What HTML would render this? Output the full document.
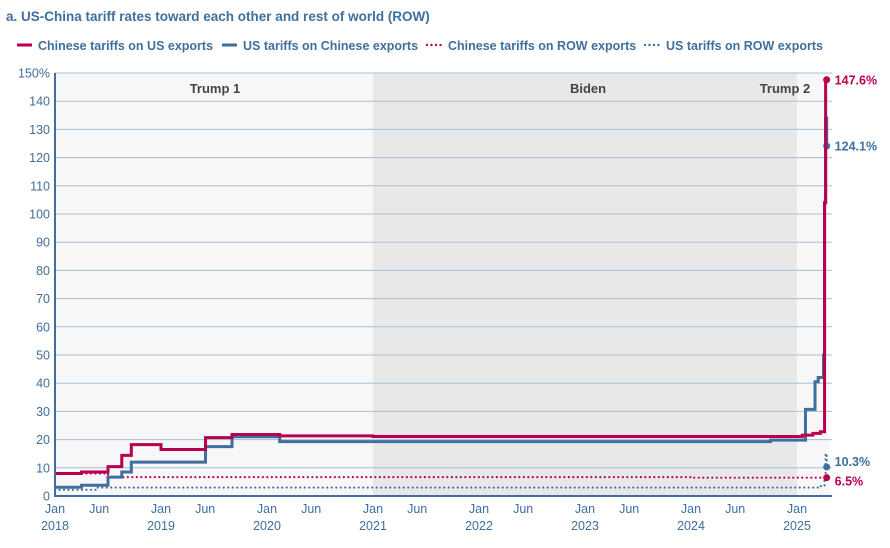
<!DOCTYPE html>
<html><head><meta charset="utf-8"><style>
body{margin:0;background:#fff;font-family:"Liberation Sans",sans-serif;}
svg text{font-family:"Liberation Sans",sans-serif;}
</style></head><body>
<svg width="890" height="543" viewBox="0 0 890 543">
<text x="6" y="21" font-size="13.5" font-weight="bold" fill="#3f6f9e">a. US-China tariff rates toward each other and rest of world (ROW)</text>
<g id="legend"></g>
<g id="bg"></g><g id="grid"></g><g id="series"></g><g id="axes"></g>
</svg>
<script>
const yTicks=[0,10,20,30,40,50,60,70,80,90,100,110,120,130,140,150];
const xTickDates=[2018,2018.417,2019,2019.417,2020,2020.417,2021,2021.417,2022,2022.417,2023,2023.417,2024,2024.417,2025];
const xTickLabels=[["Jan","2018"],["Jun",""],["Jan","2019"],["Jun",""],["Jan","2020"],["Jun",""],["Jan","2021"],["Jun",""],["Jan","2022"],["Jun",""],["Jan","2023"],["Jun",""],["Jan","2024"],["Jun",""],["Jan","2025"]];
const eraNames=["Trump 1","Biden","Trump 2"];
const eraStart=[2018,2021.0,2025.0];
const eraEnd=[2021.0,2025.0,2025.3];
const cnUsT=[2018,2018.25,2018.5,2018.63,2018.72,2019,2019.42,2019.67,2020.12,2021,2024.9,2025.05,2025.15,2025.22,2025.26,2025.27,2025.28];
const cnUsV=[8,8.5,10.4,14.4,18.2,16.5,20.7,21.8,21.3,21.1,21.1,21.6,22.2,22.8,104,147.6,147.6];
const usCnT=[2018,2018.25,2018.5,2018.63,2018.72,2019.42,2019.67,2020.12,2024.75,2025.08,2025.17,2025.2,2025.25,2025.26,2025.27,2025.28];
const usCnV=[3.1,3.8,6.7,8.5,12,17.5,21,19.3,19.8,30.7,40.5,42,50,104,134,124.1];
const cnRowT=[2018,2018.5,2024,2025.2,2025.28];
const cnRowV=[8,6.7,6.5,6.5,6.5];
const usRowT=[2018,2018.4,2025.1,2025.22,2025.26,2025.27,2025.28];
const usRowV=[2.2,3,3,3.5,5.5,15,10.3];
const RED="#b8004f",BLUE="#3f6f9e";
const X=t=>55+(t-2018)*106;
const Y=v=>496-v*2.82;
const NS="http://www.w3.org/2000/svg";
function mk(tag,attrs,parent){const e=document.createElementNS(NS,tag);for(const k in attrs)e.setAttribute(k,attrs[k]);parent.appendChild(e);return e;}
const bg=document.getElementById('bg'),grid=document.getElementById('grid'),ser=document.getElementById('series'),axes=document.getElementById('axes'),leg=document.getElementById('legend');
const fills=["#f7f7f7","#e8e8e8","#f7f7f7"];
eraNames.forEach((n,i)=>{
 const r=mk('rect',{x:X(eraStart[i]),y:Y(150),width:X(eraEnd[i])-X(eraStart[i]),height:Y(0)-Y(150),fill:fills[i]},bg);
 
 
 const cx=i==0?215:(i==1?588:785);
 const t=mk('text',{x:cx,y:93,'font-size':13,'font-weight':'bold',fill:'#444','text-anchor':'middle'},bg);t.textContent=n;
 
 
});
yTicks.forEach(v=>{
 if(v>0){const l=mk('line',{x1:55,x2:832,y1:Y(v),y2:Y(v),stroke:'#a9bfd6','stroke-width':1},grid);
 
 }
 const t=mk('text',{x:50,y:Y(v)+4.5,'font-size':12.5,fill:BLUE,'text-anchor':'end'},axes);t.textContent=v==150?'150%':v;
 
 
});
mk('line',{x1:55,x2:55,y1:Y(150),y2:Y(0)+1,stroke:BLUE,'stroke-width':2},axes);
const xa=mk('line',{x1:54,x2:832,y1:Y(0),y2:Y(0),stroke:BLUE,'stroke-width':2},axes);


xTickDates.forEach((d,i)=>{
 const t=mk('text',{x:X(d),y:513,'font-size':12.5,fill:BLUE,'text-anchor':'middle'},axes);t.textContent=xTickLabels[i][0];
 
 
 if(xTickLabels[i][1]){const t2=mk('text',{x:X(d),y:530,'font-size':12.5,fill:BLUE,'text-anchor':'middle'},axes);t2.textContent=xTickLabels[i][1];
 
 }
});
function step(T,V){let d=`M${X(T[0])},${Y(V[0])}`;for(let i=1;i<T.length;i++){d+=`H${X(T[i])}V${Y(V[i])}`;}return d;}
function line(T,V,col,dash,name){
 const p=mk('path',{d:step(T,V),fill:'none',stroke:col,'stroke-width':dash?2.2:3,'stroke-dasharray':dash?'0 4.5':'none','stroke-linecap':dash?'round':'butt'},ser);
 
 
 const n=T.length-1;
 const c=mk('circle',{cx:X(T[n]),cy:Y(V[n]),r:3.5,fill:col},ser);
 
 
 const t=mk('text',{x:X(T[n])+8,y:Y(V[n])+4.5,'font-size':12.5,'font-weight':'bold',fill:col},ser);
 t.textContent=V[n].toFixed(1)+'%';
 
 
 return t;
}
line(usRowT,usRowV,BLUE,true,'us-row-line').setAttribute('y',Y(10.3)-1);
line(cnRowT,cnRowV,RED,true,'cn-row-line').setAttribute('y',Y(6.5)+8);
line(usCnT,usCnV,BLUE,false,'us-tariffs-on-china-line');
line(cnUsT,cnUsV,RED,false,'china-tariffs-on-us-line');
const items=[["Chinese tariffs on US exports",RED,0,17],["US tariffs on Chinese exports",BLUE,0,222],["Chinese tariffs on ROW exports",RED,1,427],["US tariffs on ROW exports",BLUE,1,645]];
items.forEach(it=>{
 const g=mk('g',{},leg);
 
 
 mk('line',{x1:it[3],x2:it[3]+15,y1:45,y2:45,stroke:it[1],'stroke-width':it[2]?2.4:3,'stroke-dasharray':it[2]?'0 4.5':'none','stroke-linecap':it[2]?'round':'butt'},g);
 const t=mk('text',{x:it[3]+21,y:50,'font-size':12.5,'font-weight':'bold',fill:BLUE},g);t.textContent=it[0];
});
</script>
</body></html>
